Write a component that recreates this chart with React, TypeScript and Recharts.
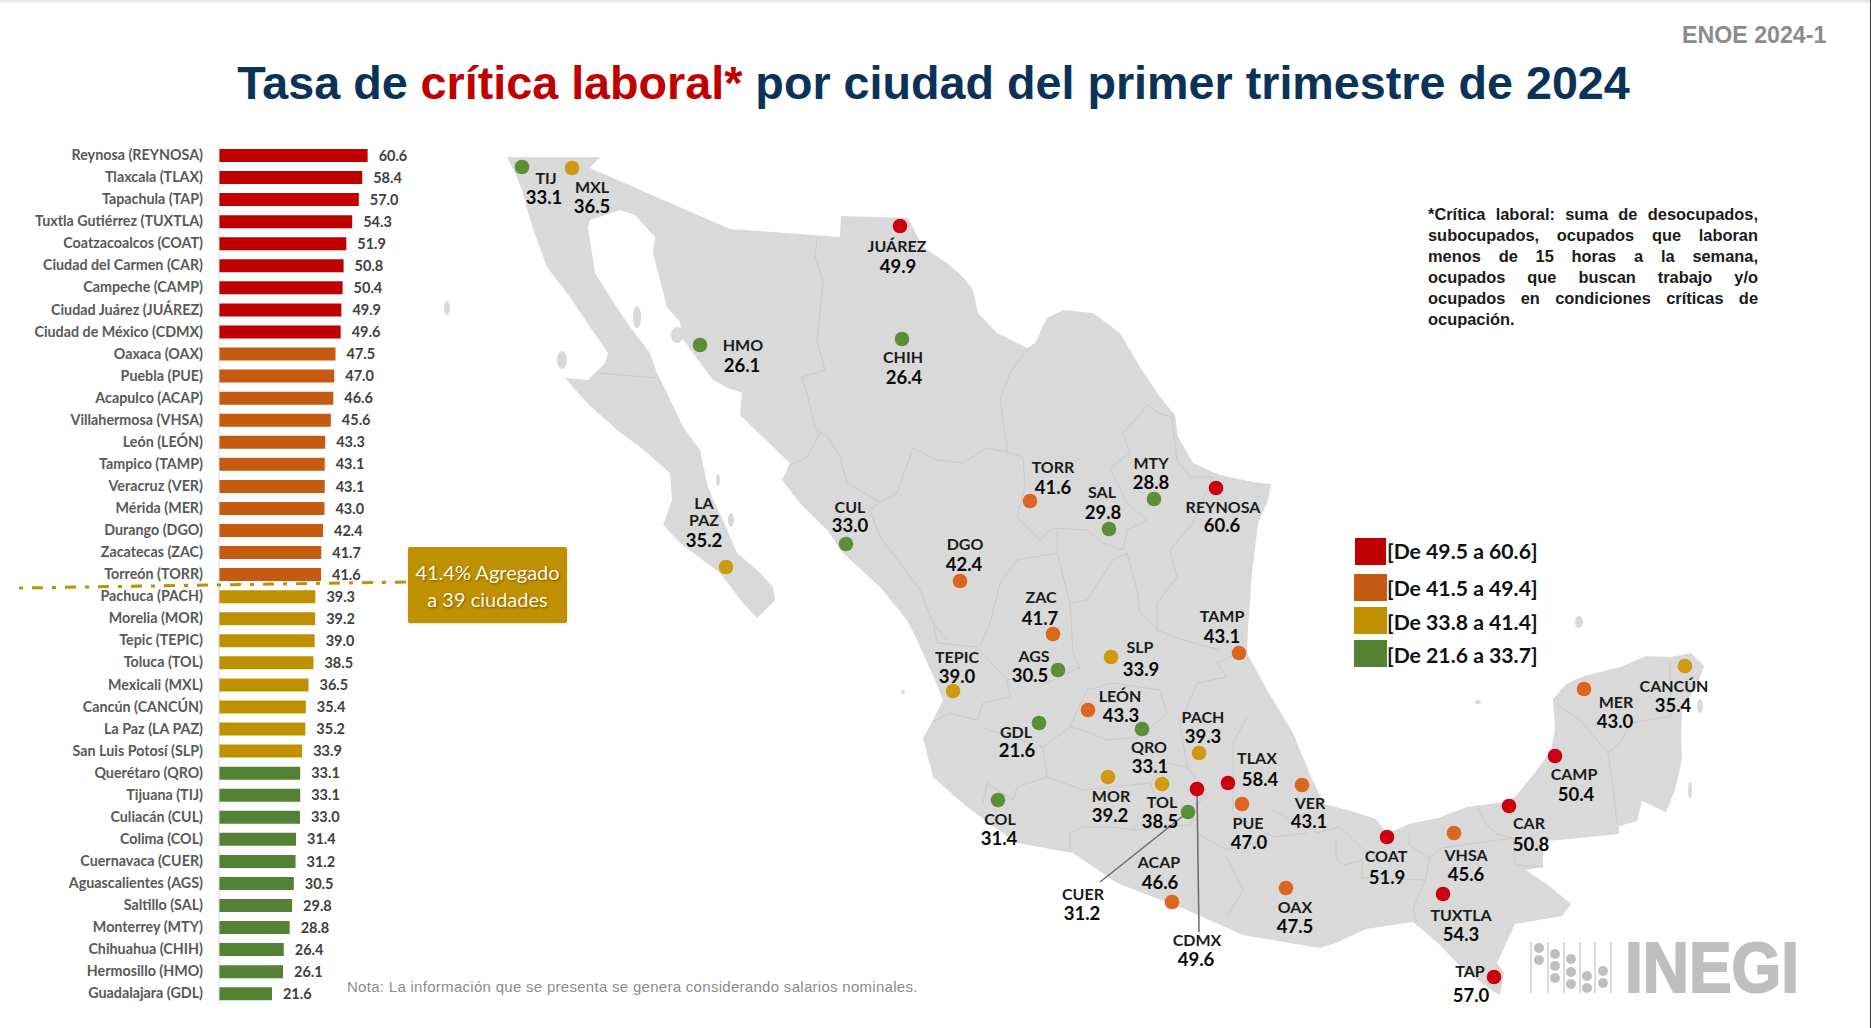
import { Bar, BarChart, Cell, LabelList, ReferenceLine, Scatter, ScatterChart, XAxis, YAxis } from 'recharts'

const cities = [
  'Reynosa (REYNOSA)', 'Tlaxcala (TLAX)', 'Tapachula (TAP)', 'Tuxtla Gutiérrez (TUXTLA)', 'Coatzacoalcos (COAT)',
  'Ciudad del Carmen (CAR)', 'Campeche (CAMP)', 'Ciudad Juárez (JUÁREZ)', 'Ciudad de México (CDMX)', 'Oaxaca (OAX)',
  'Puebla (PUE)', 'Acapulco (ACAP)', 'Villahermosa (VHSA)', 'León (LEÓN)', 'Tampico (TAMP)', 'Veracruz (VER)',
  'Mérida (MER)', 'Durango (DGO)', 'Zacatecas (ZAC)', 'Torreón (TORR)', 'Pachuca (PACH)', 'Morelia (MOR)',
  'Tepic (TEPIC)', 'Toluca (TOL)', 'Mexicali (MXL)', 'Cancún (CANCÚN)', 'La Paz (LA PAZ)', 'San Luis Potosí (SLP)',
  'Querétaro (QRO)', 'Tijuana (TIJ)', 'Culiacán (CUL)', 'Colima (COL)', 'Cuernavaca (CUER)', 'Aguascalientes (AGS)',
  'Saltillo (SAL)', 'Monterrey (MTY)', 'Chihuahua (CHIH)', 'Hermosillo (HMO)', 'Guadalajara (GDL)',
]
const rates = [
  60.6, 58.4, 57.0, 54.3, 51.9, 50.8, 50.4, 49.9, 49.6, 47.5, 47.0, 46.6, 45.6, 43.3, 43.1, 43.1, 43.0, 42.4, 41.7, 41.6,
  39.3, 39.2, 39.0, 38.5, 36.5, 35.4, 35.2, 33.9, 33.1, 33.1, 33.0, 31.4, 31.2, 30.5, 29.8, 28.8, 26.4, 26.1, 21.6,
]
const codes = [
  'REYNOSA', 'TLAX', 'TAP', 'TUXTLA', 'COAT', 'CAR', 'CAMP', 'JUÁREZ', 'CDMX', 'OAX', 'PUE', 'ACAP', 'VHSA', 'LEÓN',
  'TAMP', 'VER', 'MER', 'DGO', 'ZAC', 'TORR', 'PACH', 'MOR', 'TEPIC', 'TOL', 'MXL', 'CANCÚN', 'LA\nPAZ', 'SLP', 'QRO',
  'TIJ', 'CUL', 'COL', 'CUER', 'AGS', 'SAL', 'MTY', 'CHIH', 'HMO', 'GDL',
]

// map positions of each city, same order as the lists above
const dotX = [1216, 1228, 1494, 1443, 1387, 1509, 1555, 900, 1197, 1286, 1242, 1172, 1454, 1088, 1239, 1302, 1584, 960, 1053, 1030, 1199, 1108, 953, 1162, 572, 1685, 726, 1111, 1142, 522, 846, 998, 1188, 1058, 1109, 1154, 902, 700, 1039]
const dotY = [488, 783, 977, 894, 837, 806, 756, 226, 789, 888, 804, 902, 833, 710, 653, 785, 689, 581, 634, 501, 753, 777, 691, 784, 168, 666, 567, 657, 729, 167, 544, 800, 812, 670, 529, 499, 339, 345, 723]
const nameX = [1223, 1257, 1470, 1461, 1386, 1529, 1574, 897, 1197, 1295, 1248, 1159, 1466, 1120, 1222, 1310, 1616, 965, 1041, 1053, 1203, 1111, 957, 1162, 592, 1674, 704, 1140, 1149, 546, 850, 1000, 1083, 1034, 1102, 1151, 903, 743, 1016]
const nameY = [507, 758, 971, 915, 856, 823, 774, 246, 940, 907, 823, 862, 855, 696, 616, 803, 702, 544, 597, 467, 717, 796, 657, 802, 187, 686, 520, 647, 747, 178, 507, 819, 894, 656, 492, 463, 357, 345, 732]
const valueX = [1222, 1260, 1471, 1461, 1387, 1531, 1576, 898, 1196, 1295, 1249, 1160, 1466, 1121, 1222, 1309, 1615, 964, 1040, 1053, 1203, 1110, 957, 1160, 592, 1673, 704, 1141, 1150, 544, 850, 999, 1082, 1030, 1103, 1151, 904, 742, 1017]
const valueY = [525, 779, 995, 934, 877, 844, 794, 266, 959, 926, 842, 882, 874, 715, 636, 821, 721, 564, 618, 487, 736, 815, 676, 821, 206, 705, 540, 669, 766, 197, 525, 838, 913, 675, 512, 482, 377, 365, 750]

const tierLabels = ['[De 49.5 a 60.6]', '[De 41.5 a 49.4]', '[De 33.8 a 41.4]', '[De 21.6 a 33.7]']
const tierFloors = [49.5, 41.5, 33.8, 0]
const barColors = ['#C00000', '#C55A11', '#BF9000', '#548235']
const dotColors = ['#CB0010', '#DC661F', '#CF9A10', '#5A8F37']

const noteLines = [
  '*Crítica laboral: suma de desocupados,',
  'subocupados, ocupados que laboran',
  'menos de 15 horas a la semana,',
  'ocupados que buscan trabajo y/o',
  'ocupados en condiciones críticas de',
  'ocupación.',
]

const tierOf = (v: number) => tierFloors.findIndex((f) => v >= f)

const barData = cities.map((city, i) => ({ city, rate: rates[i] }))
const dotData = codes.map((code, i) => ({ x: dotX[i], y: dotY[i], rate: rates[i], code }))
const nameData = codes.map((code, i) => ({ x: nameX[i], y: nameY[i], code }))
const valueData = codes.map((code, i) => ({ x: valueX[i], y: valueY[i], text: rates[i].toFixed(1) }))

const LAND =
  '507,157 600,157 590,168 730,229 840,237 841,216 908,218 923,247 947,263 963,277 973,290 978,313 997,333 1027,348 1035,343 1047,318 1063,310 1093,313 1120,333 1140,367 1160,397 1175,415 1178,437 1193,463 1220,475 1253,482 1271,484 1268,500 1258,523 1252,573 1248,627 1247,653 1267,690 1293,733 1311,777 1324,804 1351,811 1376,819 1387,834 1409,824 1438,818 1467,807 1504,802 1515,797 1537,770 1551,750 1555,730 1553,699 1566,684 1584,676 1620,667 1646,656 1671,657 1691,653 1704,666 1697,686 1682,709 1681,736 1682,760 1675,790 1666,812 1642,801 1637,821 1619,826 1619,834 1559,840 1543,841 1543,867 1526,870 1548,885 1571,904 1562,916 1515,924 1497,963 1504,973 1500,995 1491,990 1460,966 1438,943 1413,922 1366,929 1336,943 1320,948 1290,943 1243,935 1187,910 1117,883 1073,853 1017,843 967,807 933,777 923,738 932,722 943,700 935,680 917,640 907,620 880,587 843,553 827,530 800,503 782,480 790,463 773,447 740,415 742,393 728,388 713,380 693,353 682,338 680,322 667,307 653,253 655,237 635,215 620,210 590,220 588,227 595,273 612,300 630,327 650,353 657,373 667,393 683,427 700,450 707,483 713,500 723,520 737,553 757,570 773,587 775,600 757,618 743,603 720,573 680,543 663,525 672,500 670,473 640,447 617,430 587,403 565,378 588,380 605,363 608,353 590,327 570,297 547,267 537,240 528,213 522,190 515,173'

const BORDERS = [
  '598,373 657,378',
  '817,238 815,257 823,280 820,313 817,340 825,370 802,377 808,397 815,427 820,433 807,457 790,465',
  '820,433 827,435 840,457 847,483 880,502 897,493 913,448 937,460 963,463 987,448 1007,452 1023,457 1025,487 1017,517 1040,540 1052,528 1087,530 1103,543 1123,550 1127,530 1147,520 1127,503 1110,468 1130,453 1123,433 1148,405 1158,413 1172,417',
  '880,502 870,510 880,537 900,563 920,590 933,623 947,640',
  '1027,349 1010,373 1000,400 1007,447 1007,452',
  '1172,417 1177,460 1190,477 1213,477',
  '1213,477 1193,523 1170,550 1177,577 1157,603 1157,630 1183,640 1220,650',
  '1057,530 1057,553 1017,560 1000,583 990,623 980,647',
  '1070,603 1087,600 1113,560 1127,553 1137,590 1140,613 1157,630',
  '1057,553 1070,603 1073,653 1080,667',
  '933,620 937,643 977,647 1007,680 1020,677 1047,683 1080,667',
  '932,722 950,713 977,720 983,703 1010,697 1007,680',
  '983,728 1043,747 1047,777 1017,787 1013,800 987,783 983,803',
  '1043,747 1070,727 1087,690 1113,683 1160,690 1167,713 1140,737 1107,740 1083,730 1070,727',
  '1070,850 1070,833 1083,827 1113,827 1133,830 1160,807 1150,783 1167,763 1187,767 1180,723 1197,683 1227,677 1217,663 1239,653',
  '1047,777 1083,790 1150,783',
  '1247,717 1233,743 1233,770 1233,813 1273,837 1307,833',
  '1187,767 1205,790 1190,825 1133,830',
  '1197,833 1227,850 1270,840',
  '1227,857 1243,890 1227,917',
  '1273,810 1317,833 1340,827 1367,853',
  '1336,840 1336,858 1344,865 1362,860 1362,878 1424,880',
  '1409,831 1409,845 1429,858 1426,878 1413,909 1417,922',
  '1429,858 1442,848 1498,840 1515,838',
  '1477,806 1486,824 1497,834 1513,838 1515,865 1543,867',
  '1555,703 1580,720 1608,753 1613,787 1617,824',
  '1608,753 1620,743 1631,723 1671,716 1670,662',
]

// cx, cy, rx, ry
const ISLANDS = [
  [447, 308, 3, 7], [562, 360, 5, 9], [637, 317, 4, 11], [677, 335, 6, 8], [903, 692, 2, 2], [1700, 706, 3, 7],
  [1579, 622, 4, 6], [1478, 702, 3, 2], [718, 480, 2, 6], [731, 520, 3, 7], [1690, 790, 2, 8],
]

const ABACUS_LINES = [1531, 1548, 1564, 1580, 1595, 1611]
const ABACUS_BEADS = [
  [1539, 948], [1539, 960], [1555, 954], [1555, 966], [1555, 978], [1571, 959], [1571, 972], [1571, 984],
  [1587, 976], [1587, 988], [1603, 971], [1603, 983],
]

const LABEL_FONT = 'Lato, sans-serif'
const HEAD_FONT = '"Liberation Sans", Arial, sans-serif'

function CityDot(props: any) {
  return <circle cx={props.cx} cy={props.cy} r={7.3} fill={dotColors[tierOf(props.payload.rate)]} />
}

function CityName(props: any) {
  const lines = String(props.payload.code).split('\n')
  return (
    <text textAnchor="middle" fontFamily={LABEL_FONT} fontWeight={700} fontSize={16} fill="#1c1c1c">
      {lines.map((line, i) => (
        <tspan key={line} x={props.cx} y={props.cy + 6 - (lines.length - 1 - i) * 17}>
          {line}
        </tspan>
      ))}
    </text>
  )
}

function CityValue(props: any) {
  return (
    <text x={props.cx} y={props.cy + 7} textAnchor="middle" fontFamily={LABEL_FONT} fontWeight={700} fontSize={18.5} fill="#0a0a0a">
      {props.payload.text}
    </text>
  )
}

function MapBase() {
  return (
    <svg width={1871} height={1028} style={{ position: 'absolute', left: 0, top: 0 }}>
      <polygon points={LAND} fill="#D9D9D9" />
      {BORDERS.map((b) => (
        <polyline key={b} points={b} fill="none" stroke="#CACACA" strokeWidth={1} strokeLinejoin="round" />
      ))}
      {ISLANDS.map(([cx, cy, rx, ry]) => (
        <ellipse key={`${cx}-${cy}`} cx={cx} cy={cy} rx={rx} ry={ry} fill="#D9D9D9" />
      ))}
      {ABACUS_LINES.map((x) => (
        <line key={x} x1={x} x2={x} y1={942} y2={993} stroke="#C4C4C4" strokeWidth={1.2} />
      ))}
      {ABACUS_BEADS.map(([cx, cy]) => (
        <circle key={`${cx}-${cy}`} cx={cx} cy={cy} r={5} fill="#BFBFBF" />
      ))}
      <text x={1625} y={992} textLength={174} lengthAdjust="spacingAndGlyphs" fontFamily={HEAD_FONT} fontWeight={700} fontSize={71} fill="#BFBFBF" stroke="#BFBFBF" strokeWidth={2}>
        INEGI
      </text>
    </svg>
  )
}

export default function App() {
  return (
    <div style={{ position: 'absolute', left: 0, top: 0, width: 1871, height: 1028, background: '#fff', overflow: 'hidden' }}>
      <div style={{ position: 'absolute', left: 0, top: 0, width: 1871, height: 4, background: 'linear-gradient(#e2e2e2, #fff)' }} />
      <div style={{ position: 'absolute', right: 0, top: 0, width: 1, height: 1028, background: '#333' }} />

      <MapBase />

      <div
        style={{
          position: 'absolute', left: 1682, top: 22, fontFamily: HEAD_FONT, fontWeight: 700, fontSize: 23.2, color: '#8C8C8C', whiteSpace: 'nowrap',
        }}
      >
        ENOE 2024-1
      </div>
      <div
        style={{
          position: 'absolute', left: 0, top: 55, width: 1867, textAlign: 'center', fontFamily: HEAD_FONT, fontWeight: 700, fontSize: 46.7, lineHeight: '56px', color: '#0B3357', whiteSpace: 'nowrap',
        }}
      >
        Tasa de <span style={{ color: '#C00000' }}>crítica laboral*</span> por ciudad del primer trimestre de 2024
      </div>

      <div style={{ position: 'absolute', left: 0, top: 143.5 }}>
        <BarChart
          width={465}
          height={860.3}
          layout="vertical"
          data={barData}
          margin={{ top: 0, right: 0, bottom: 0, left: 0 }}
        >
          <XAxis type="number" domain={[0, 100.3]} hide />
          <YAxis
            type="category"
            dataKey="city"
            width={219}
            interval={0}
            tickLine={false}
            tickMargin={10}
            axisLine={{ stroke: '#D9D9D9' }}
            tick={{ fontSize: 14.3, fontFamily: LABEL_FONT, fontWeight: 700, fill: '#595959' }}
          />
          <Bar dataKey="rate" barSize={13} isAnimationActive={false}>
            {barData.map((d) => (
              <Cell key={d.city} fill={barColors[tierOf(d.rate)]} />
            ))}
            <LabelList
              dataKey="rate"
              position="right"
              offset={11}
              formatter={(v: number) => v.toFixed(1)}
              style={{ fontSize: 14.5, fontFamily: LABEL_FONT, fontWeight: 700, fill: '#404040' }}
            />
          </Bar>
        </BarChart>
      </div>

      <div style={{ position: 'absolute', left: 0, top: 0 }}>
        <ScatterChart width={1871} height={1028} margin={{ top: 0, right: 0, bottom: 0, left: 0 }}>
          <XAxis type="number" dataKey="x" domain={[0, 1871]} hide />
          <YAxis type="number" dataKey="y" domain={[0, 1028]} reversed hide />
          <ReferenceLine
            segment={[{ x: 19, y: 588 }, { x: 408, y: 582 }]}
            stroke="#BF9000"
            strokeWidth={3}
            strokeDasharray="4 9 11 9"
          />
          <ReferenceLine segment={[{ x: 1188, y: 812 }, { x: 1100, y: 882 }]} stroke="#6b6b6b" strokeWidth={1.5} />
          <ReferenceLine segment={[{ x: 1197, y: 789 }, { x: 1199, y: 932 }]} stroke="#6b6b6b" strokeWidth={1.5} />
          <Scatter data={dotData} shape={CityDot} isAnimationActive={false} />
          <Scatter data={nameData} shape={CityName} isAnimationActive={false} />
          <Scatter data={valueData} shape={CityValue} isAnimationActive={false} />
        </ScatterChart>
      </div>

      <div
        style={{
          position: 'absolute', left: 408, top: 547, width: 159, height: 76, background: '#BF9000', borderRadius: 2, color: '#FFF8E6', textAlign: 'center', fontFamily: LABEL_FONT, fontSize: 20, lineHeight: '27px', paddingTop: 12, boxSizing: 'border-box', textShadow: '1px 1px 2px rgba(0,0,0,0.4)', boxShadow: '0 1px 2px rgba(0,0,0,0.15)',
        }}
      >
        41.4% Agregado
        <br />
        a 39 ciudades
      </div>

      <div
        style={{
          position: 'absolute', left: 1428, top: 204, width: 330, fontFamily: HEAD_FONT, fontWeight: 700, fontSize: 16.4, lineHeight: '21px', color: '#1a1a1a',
        }}
      >
        {noteLines.map((line, i) => (
          <div key={line} style={{ whiteSpace: 'nowrap', textAlign: i < noteLines.length - 1 ? 'justify' : 'left', textAlignLast: i < noteLines.length - 1 ? 'justify' : 'left' }}>
            {line}
          </div>
        ))}
      </div>

      {tierLabels.map((label, i) => (
        <div key={label}>
          <div style={{ position: 'absolute', left: i === 0 ? 1355 : 1354, top: [538, 574, 607, 640][i], width: i === 0 ? 31 : 33, height: 27, background: barColors[i] }} />
          <div
            style={{
              position: 'absolute', left: 1387, top: [538, 575, 609, 642][i], fontFamily: LABEL_FONT, fontWeight: 700, fontSize: 21.2, lineHeight: '26px', color: '#111', whiteSpace: 'nowrap',
            }}
          >
            {label}
          </div>
        </div>
      ))}

      <div
        style={{
          position: 'absolute', left: 347, top: 978, fontFamily: HEAD_FONT, fontSize: 15, letterSpacing: 0.29, color: '#8C8C8C', whiteSpace: 'nowrap',
        }}
      >
        Nota: La información que se presenta se genera considerando salarios nominales.
      </div>
    </div>
  )
}
